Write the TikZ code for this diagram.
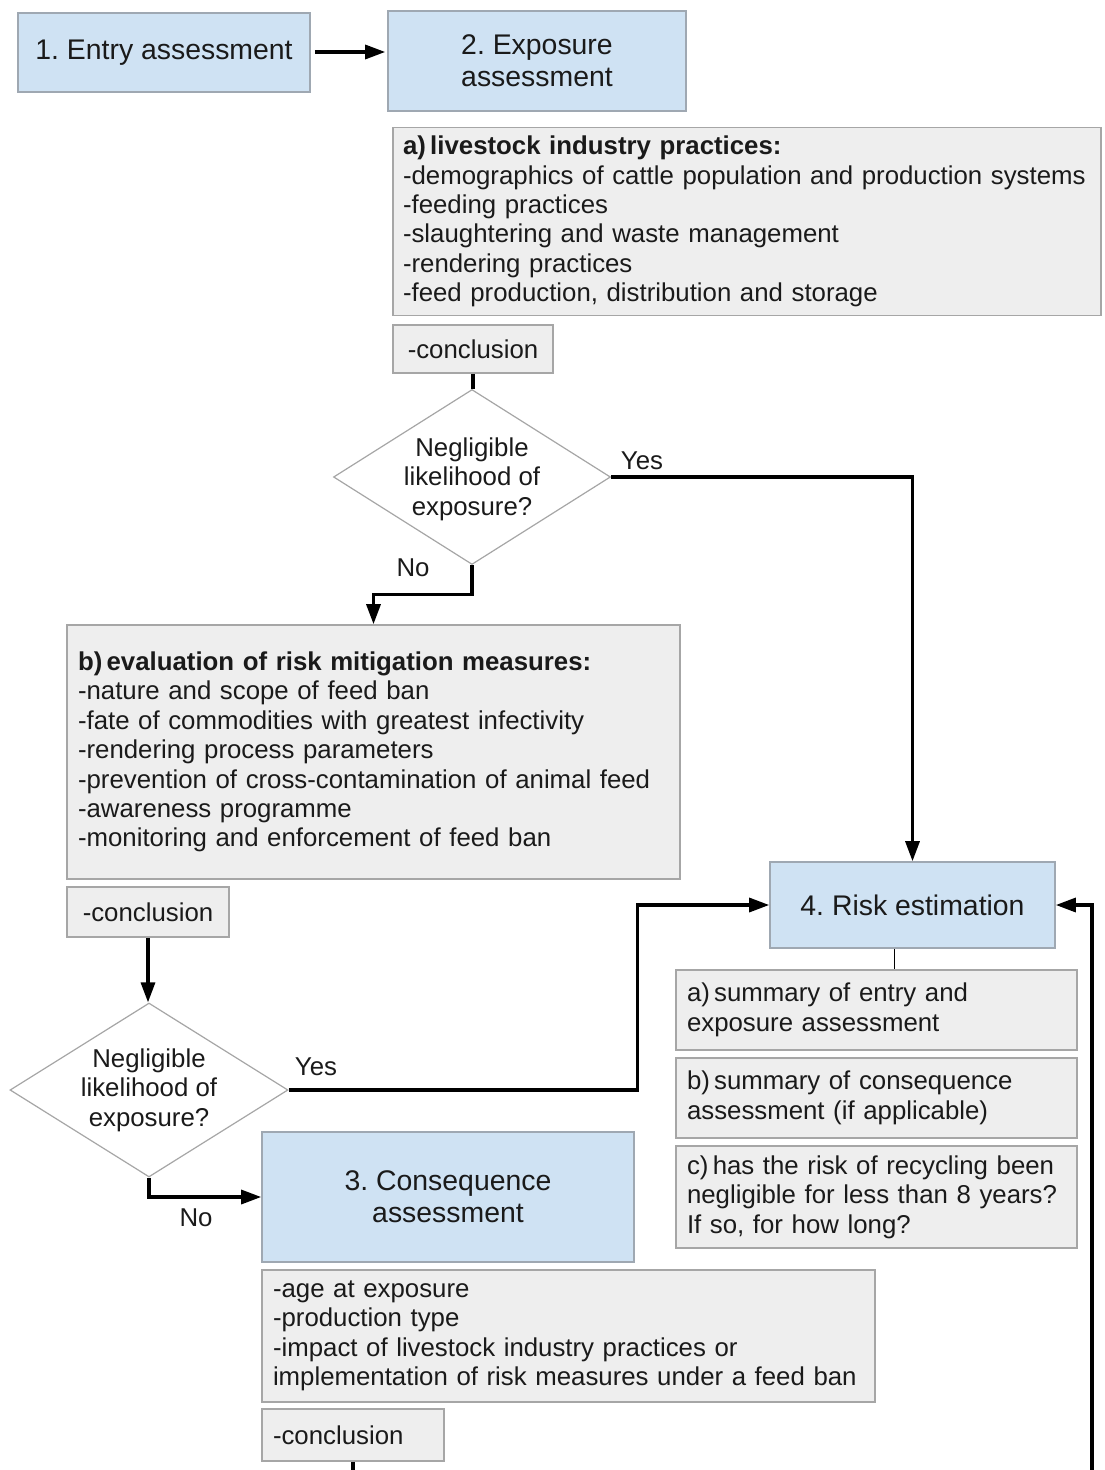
\documentclass[tikz,border=0pt]{standalone}
\usepackage{fontspec}
\setmainfont{Liberation Sans}
\usetikzlibrary{shapes.geometric,arrows.meta}
\definecolor{bluefill}{HTML}{CFE2F3}
\definecolor{blueline}{HTML}{9FA8B2}
\definecolor{grayfill}{HTML}{EEEEEE}
\definecolor{grayline}{HTML}{A6A6A6}
\definecolor{ink}{HTML}{1A1A1A}
\newcommand\fsmall{\frenchspacing\hyphenpenalty=10000\fontsize{12.9}{14.7}\selectfont}
\newcommand\fbig{\frenchspacing\fontsize{14.2}{16}\selectfont}
\begin{document}
\begin{tikzpicture}[x=0.5pt,y=-0.5pt,
  bluebox/.style={draw=blueline,line width=0.8pt,fill=bluefill,inner sep=0pt,align=center,font=\fbig,text=ink},
  graybox/.style={draw=grayline,line width=0.8pt,fill=grayfill,inner xsep=5.5pt,inner ysep=0pt,align=left,font=\fsmall,text=ink},
  dia/.style={draw=grayline,line width=0.6pt,fill=white,shape=diamond,inner sep=0pt,minimum width=138.5pt,minimum height=87.5pt},
  diatext/.style={align=center,font=\fsmall,text=ink,inner sep=0pt},
  lbl/.style={font=\fsmall,text=ink,inner sep=0pt},
  conn/.style={line width=1.6pt,draw=black},
  arr/.style={conn,-{Triangle[length=10pt,width=7pt]}}]
\useasboundingbox (0,0) rectangle (1104,1470);
\clip (0,0) rectangle (1104,1470);

% main boxes
\node[bluebox,minimum width=146pt,minimum height=39.5pt] (b1) at (164,52.5) {1. Entry assessment};
\node[bluebox,minimum width=149pt,minimum height=50pt] (b2) at (537,61) {2. Exposure\\assessment};
\node[bluebox,minimum width=186pt,minimum height=65pt] (b3) at (448,1197) {3. Consequence\\assessment};
\node[bluebox,minimum width=142.5pt,minimum height=43pt] (risk) at (912.5,905) {4. Risk estimation};

% exposure details
\node[graybox,inner xsep=5pt,text width=344pt,minimum height=94pt] (ba) at (747,221.5)
 {\textbf{a)\,livestock industry practices:}\\
  -demographics of cattle population and production systems\\
  -feeding practices\\
  -slaughtering and waste management\\
  -rendering practices\\
  -feed production, distribution and storage};
\node[graybox,minimum width=80pt,minimum height=24pt,align=center,inner xsep=0pt] (c1) at (473,349) {-conclusion};

\node[dia] (d1) at (472,477) {};
\node[diatext] (d1t) at ([yshift=-1pt]d1.center) {Negligible\\likelihood of\\exposure?};

\node[graybox,text width=295.5pt,minimum height=127pt] (bb) at (373.5,752)
 {\textbf{b)\,evaluation of risk mitigation measures:}\\
  -nature and scope of feed ban\\
  -fate of commodities with greatest infectivity\\
  -rendering process parameters\\
  -prevention of cross-contamination of animal feed\\
  -awareness programme\\
  -monitoring and enforcement of feed ban};
\node[graybox,minimum width=81pt,minimum height=25pt,align=center,inner xsep=0pt] (c2) at (148,912) {-conclusion};

\node[dia,minimum width=139pt,minimum height=87pt] (d2) at (149,1090) {};
\node[diatext] (d2t) at (d2.center) {Negligible\\likelihood of\\exposure?};

% consequence details
\node[graybox,text width=295.5pt,minimum height=66pt] (bc) at (568.5,1336)
 {-age at exposure\\
  -production type\\
  -impact of livestock industry practices or\\
  implementation of risk measures under a feed ban};
\node[graybox,text width=80pt,minimum height=26pt] (c3) at (353,1435) {-conclusion};

% risk estimation details
\node[graybox,text width=189.5pt,minimum height=40pt] (sa) at (876.5,1010) {a)\,summary of entry and\\exposure assessment};
\node[graybox,text width=189.5pt,minimum height=40pt] (sb) at (876.5,1098) {b)\,summary of consequence\\assessment (if applicable)};
\node[graybox,text width=189.5pt,minimum height=51pt] (sc) at (876.5,1197) {c)\,has the risk of recycling been\\negligible for less than 8 years?\\If so, for how long?};

% labels
\node[lbl] (y1) at (642,461) {Yes};
\node[lbl] (n1) at (413,568) {No};
\node[lbl] (y2) at (316,1067) {Yes};
\node[lbl] (n2) at (196,1218) {No};

% connectors
\draw[arr,shorten <=2pt,shorten >=1pt] (b1.east |- 0,52) -- (b2.west |- 0,52);
\draw[conn] (c1.south) -- (c1.south |- d1.north);
\draw[arr] (d1.east) -| (risk.north);
\draw[arr] (d1.south) -- ++(0,29) -| (bb.north);
\draw[arr] (c2.south) -- (c2.south |- d2.north);
\draw[arr] (d2.east) -- ++(349,0) |- (risk.west);
\draw[arr] (d2.south) |- (b3.west);
\draw[conn,line width=0.8pt] ([xshift=-9pt]risk.south) -- ([xshift=-9pt]risk.south |- sa.north);
\coordinate (loopl) at (c3.south |- 0,1500);
\coordinate (loopr) at (1092,1500);
\draw[arr] (c3.south) -- (loopl) -- (loopr) |- (risk.east);
\end{tikzpicture}
\end{document}
